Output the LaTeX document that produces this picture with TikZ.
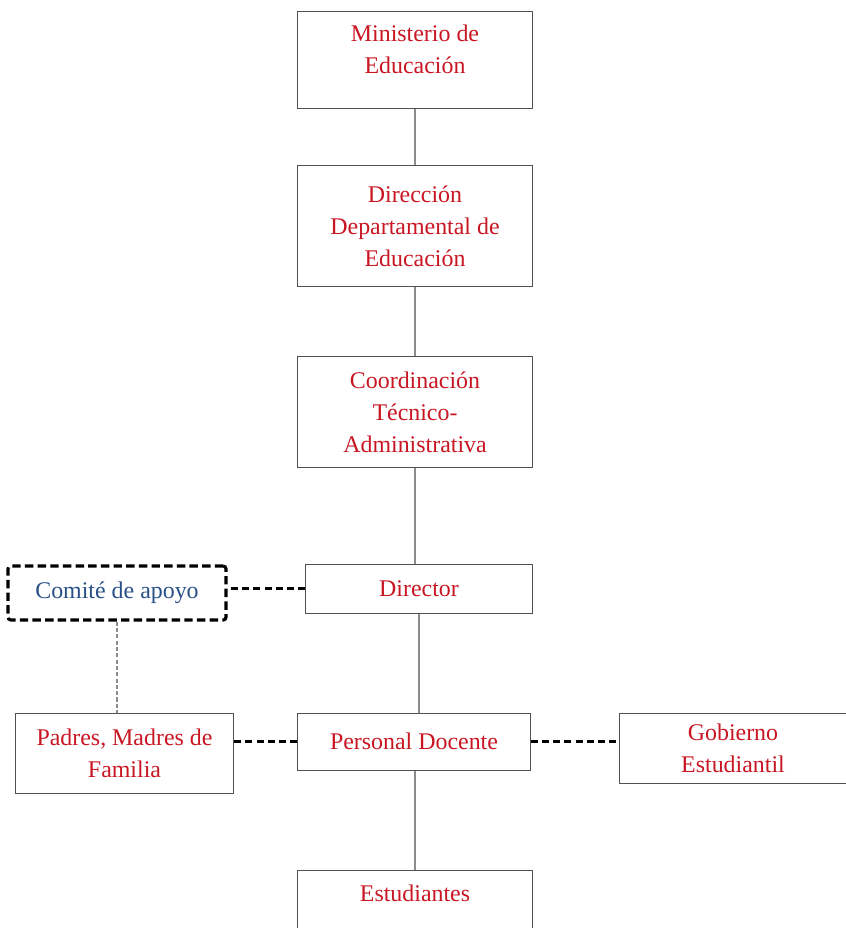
\documentclass[tikz,border=0pt]{standalone}
\usepackage{fontspec}
\setmainfont{Liberation Serif}
\definecolor{orgred}{RGB}{200,22,34}
\definecolor{orgblue}{RGB}{40,80,135}
\definecolor{linegray}{RGB}{140,140,140}
\definecolor{boxgray}{RGB}{80,80,80}

\begin{document}
\begin{tikzpicture}[x=0.025cm,y=-0.025cm]
\tikzstyle{every node}+=[inner sep=0pt,font=\fontsize{17}{22.7}\selectfont,align=center]
\tikzstyle{box}=[draw=boxgray,line width=0.7pt,text=orgred]
\tikzstyle{link}=[draw=linegray,line width=0.8pt]
\tikzstyle{dlink}=[draw=black,line width=1.9pt,dash pattern=on 5pt off 3pt]
\useasboundingbox (0,0) rectangle (846,928);
\clip (0,0) rectangle (846,928);
\node[box,minimum width=5.85cm,minimum height=2.4cm,text depth=0.55cm] (min) at (415,60) {Ministerio de\\Educación};
\node[box,minimum width=5.85cm,minimum height=3cm] (dir) at (415,226) {Dirección\\Departamental de\\Educación};
\node[box,minimum width=5.85cm,minimum height=2.75cm] (coord) at (415,412) {Coordinación\\Técnico-\\Administrativa};
\node[box,minimum width=5.65cm,minimum height=1.225cm] (director) at (419,588.5) {Director};
\node[draw=black,line width=2.2pt,dash pattern=on 6pt off 3pt,rounded corners=2pt,text=orgblue,
  minimum width=5.45cm,minimum height=1.35cm] (comite) at (117,593) {Comité de apoyo};
\node[box,minimum width=5.425cm,minimum height=2cm] (padres) at (124.5,753) {Padres, Madres de\\Familia};
\node[box,minimum width=5.8cm,minimum height=1.425cm] (docente) at (414,741.5) {Personal Docente};
\node[box,minimum width=5.65cm,minimum height=1.75cm] (gobierno) at (733,748) {Gobierno\\Estudiantil};
\node[box,minimum width=5.85cm,minimum height=1.75cm,text depth=0.6cm] (est) at (415,905) {Estudiantes};
% lineas de mando
\draw[link] (min) -- (dir);
\draw[link] (dir) -- (coord);
\draw[link] (coord) -- (coord.south |- director.north);
\draw[link] (director) -- (director.south |- docente.north);
\draw[link] (docente.south -| est.north) -- (est);
% coordinacion
\draw[dlink] (director.west) -- (director.west -| comite.east);
\draw[link,dash pattern=on 3pt off 1.5pt] (comite) -- (comite.south |- padres.north);
\draw[dlink] (docente.west) -- (docente.west -| padres.east);
\draw[dlink] (docente.east) -- (docente.east -| gobierno.west);
\end{tikzpicture}
\end{document}
